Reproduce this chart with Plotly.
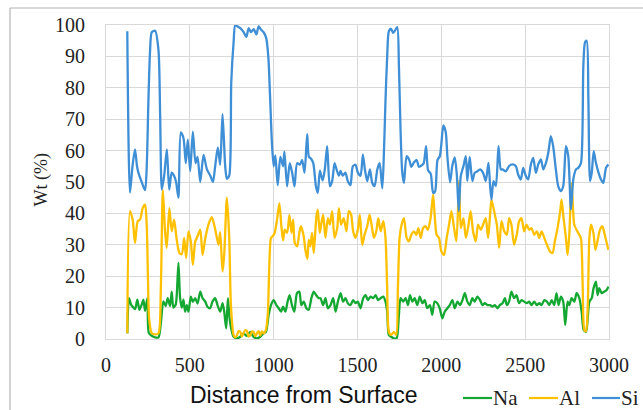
import plotly.graph_objects as go

# Depth profile of element concentrations (Wt %) versus distance from surface
na_x = [127, 137, 149, 159, 173, 187, 199, 213, 223, 233, 247, 255, 273, 293, 313, 327, 342, 356, 368, 382,
        392, 402, 416, 422, 432, 442, 452, 462, 472, 482, 492, 506, 518, 532, 546, 562, 576, 592, 605, 621,
        635, 651, 665, 681, 695, 705, 717, 727, 737, 751, 761, 781, 801, 820, 840, 860, 880, 900, 920, 940,
        954, 970, 984, 1000, 1016, 1030, 1044, 1056, 1070, 1083, 1095, 1109, 1123, 1139, 1153, 1165, 1179,
        1195, 1209, 1225, 1239, 1253, 1269, 1279, 1295, 1309, 1323, 1339, 1355, 1369, 1383, 1399, 1414,
        1428, 1442, 1458, 1474, 1488, 1502, 1518, 1534, 1548, 1562, 1578, 1594, 1608, 1622, 1638, 1654,
        1667, 1677, 1687, 1701, 1717, 1733, 1747, 1757, 1773, 1787, 1801, 1813, 1827, 1841, 1857, 1871,
        1887, 1901, 1916, 1932, 1946, 1960, 1976, 1990, 2006, 2020, 2036, 2050, 2066, 2080, 2096, 2112,
        2126, 2140, 2155, 2169, 2185, 2199, 2215, 2231, 2245, 2259, 2275, 2291, 2305, 2319, 2335, 2349,
        2365, 2379, 2391, 2404, 2418, 2434, 2448, 2464, 2478, 2494, 2510, 2524, 2538, 2554, 2570, 2584,
        2598, 2614, 2630, 2644, 2658, 2673, 2687, 2699, 2713, 2727, 2739, 2753, 2763, 2777, 2793, 2807,
        2823, 2837, 2849, 2863, 2873, 2883, 2897, 2908, 2922, 2932, 2942, 2956, 2972, 2986, 2996]
na_y = [1.8, 13, 11, 10.3, 9.5, 12.5, 9.3, 11, 12.5, 9, 13, 2, 1, 0.5, 0.5, 5, 12, 10.5, 13, 10.5,
        15.1, 10, 11, 14, 24.2, 13, 10, 12.5, 8.7, 10.8, 8.7, 13.5, 11.8, 13, 11.3, 15.1, 13, 11.9, 10.3, 9.8,
        11.9, 13, 10.8, 8.7, 11.4, 8.7, 3.4, 13, 6.6, 2.3, 0.7, 0.2, 0.7, 1.8, 1, 2.3, 0.7, 0.2, 0.7, 1.8,
        2.3, 7.7, 10.8, 12.4, 10.8, 9.8, 8.7, 10.3, 8.7, 11.9, 14, 10.8, 8.7, 14.6, 15.1, 10.8, 11.9,
        9.8, 9.3, 13, 15.1, 14, 13, 13, 10.8, 13, 9.8, 10.8, 13, 8.7, 11.9, 14.6, 11.9,
        13, 11.4, 10.8, 12.4, 11.4, 11.9, 9.8, 13, 14, 12.4, 13.5, 13, 14, 12.4, 13, 13.5,
        11.9, 8.7, 1.3, 0.7, 0.2, 0.2, 7.7, 13, 11.9, 13, 10.8, 14, 11.9, 13, 10.8, 13.5,
        11.4, 12.4, 9.8, 10.8, 7.7, 11.9, 11.4, 9.8, 6.6, 8.7, 9.8, 10.8, 12.4, 9.8, 11.9, 10.8,
        12.4, 14.6, 11.9, 10.8, 13, 11.9, 13.5, 12.4, 10.8, 11.4, 10.8, 10.8, 10.3, 10.8, 9.8, 10.8,
        11.4, 13, 10.8, 11.9, 15.1, 13, 14, 11.4, 12.4, 11.9, 11.4, 11.9, 10.8, 11.9, 10.8, 11.4,
        10.8, 12.4, 11.9, 10.8, 12.4, 10.8, 14.6, 10.8, 13.5, 11.9, 4.5, 11.9, 10.8, 13, 11.9, 14.6,
        13, 8.7, 2.9, 2.3, 6.6, 11.9, 13, 16.2, 18.3, 14, 16.2, 14.6, 15.1, 15.6, 16.7]

al_x = [127, 143, 159, 173, 189, 203, 219, 233, 243, 250, 257, 273, 293, 313, 327, 339, 352, 362, 378, 392,
        406, 422, 438, 452, 466, 478, 492, 506, 518, 532, 546, 562, 576, 592, 611, 631, 651, 671, 681, 695,
        705, 721, 735, 745, 761, 771, 781, 791, 801, 810, 820, 830, 840, 850, 860, 870, 880, 890, 900, 910,
        920, 930, 940, 954, 965, 975, 984, 994, 1006, 1020, 1034, 1046, 1056, 1066, 1080, 1094, 1106, 1116,
        1126, 1140, 1153, 1163, 1179, 1189, 1201, 1209, 1219, 1229, 1239, 1255, 1263, 1275, 1285, 1295,
        1309, 1323, 1335, 1349, 1363, 1379, 1389, 1402, 1418, 1434, 1448, 1462, 1474, 1488, 1502, 1514,
        1528, 1542, 1558, 1572, 1584, 1598, 1612, 1624, 1638, 1654, 1667, 1677, 1687, 1701, 1717, 1731,
        1741, 1751, 1763, 1777, 1793, 1807, 1821, 1837, 1851, 1863, 1877, 1891, 1907, 1920, 1936, 1951,
        1960, 1972, 1986, 2000, 2016, 2032, 2046, 2060, 2076, 2090, 2106, 2116, 2132, 2146, 2159, 2175,
        2189, 2205, 2219, 2235, 2249, 2265, 2279, 2291, 2299, 2315, 2331, 2345, 2359, 2375, 2391, 2404,
        2418, 2434, 2450, 2464, 2478, 2494, 2508, 2524, 2538, 2554, 2570, 2584, 2598, 2614, 2630, 2648,
        2663, 2677, 2693, 2709, 2717, 2729, 2743, 2753, 2763, 2777, 2793, 2809, 2823, 2833, 2843, 2853,
        2863, 2873, 2883, 2893, 2907, 2919, 2933, 2946, 2961, 2972, 2982, 2996]
al_y = [1.8, 40.7, 38, 30.6, 37.5, 38, 41.7, 42.8, 36, 20, 6.6, 1.8, 1.5, 1.8, 16, 47.5, 34.3, 29, 41.7, 34.3,
        38, 31.6, 27.4, 27, 32.2, 25.8, 34.3, 31, 23.6, 31, 32.7, 34.8, 26.8, 32, 36.4, 38.8, 35, 30, 34, 21.5,
        26.8, 45, 32.2, 10.8, 1.3, 0.5, 1.2, 2.5, 2.3, 0.8, 1.8, 2.8, 2.6, 0.8, 1.1, 2.4, 2.3, 0.9, 1.8, 2.5,
        1.1, 2.4, 1.8, 2.9, 8, 25, 32.2, 32.7, 33.8, 38, 43.3, 35.9, 31.4, 34.8, 33.8, 39.5, 33.8, 38,
        30.6, 29.5, 33.8, 35.9, 32.7, 28.4, 25.5, 31.6, 29.5, 33.8, 27.4, 39.1, 41.2, 33.8, 37, 39.6,
        32.2, 38.5, 36.4, 40.7, 32.2, 35.3, 41.7, 36.4, 38.5, 34.3, 40.7, 39.6, 34.3, 32.2, 34.8, 39.6,
        30, 33.2, 35.9, 39.6, 36.4, 32.2, 34.3, 38.5, 34.3, 37.5, 32.2, 16.2, 2.3, 1.3, 2.3, 1.3,
        16.2, 32.2, 36.4, 38.5, 32.2, 31.1, 33.2, 34.3, 33.2, 35.3, 32.2, 35.3, 35.9, 34.8, 38.5, 46,
        39.6, 33.2, 32.2, 27.9, 26.8, 32.2, 36.4, 40.7, 35.3, 31.1, 50.3, 35.3, 38.5, 32.2, 35.3, 40.7,
        34.3, 31.1, 36.4, 34.8, 36.4, 38.5, 32.2, 39.6, 44.4, 40.7, 36.4, 29, 37.5, 34.3, 33.2, 38.5,
        36.4, 30, 33.2, 37.5, 38.5, 34.3, 36.4, 34.8, 35.3, 33.2, 34.3, 32.2, 34.3, 32.2, 30, 27.9,
        27.4, 31.1, 35.3, 40.7, 44.4, 38.5, 32.2, 26.8, 33, 49.7, 36.4, 34.5, 33.2, 32, 17, 2.9,
        2.5, 10, 32.2, 36.4, 33.8, 28.4, 31.6, 34.8, 35.9, 33.8, 31.6, 28.4]

si_x = [127, 143, 158, 173, 185, 193, 213, 233, 243, 253, 263, 273, 293, 313, 323, 333, 347, 363, 377, 392,
        406, 418, 432, 446, 462, 476, 488, 502, 518, 534, 546, 562, 582, 602, 622, 638, 651, 667, 681, 695,
        711, 721, 735, 747, 761, 771, 786, 801, 821, 837, 851, 865, 881, 897, 910, 925, 940, 955, 968, 978,
        990, 1000, 1010, 1024, 1040, 1056, 1064, 1080, 1096, 1110, 1124, 1140, 1156, 1170, 1184, 1200,
        1210, 1222, 1236, 1252, 1263, 1276, 1292, 1305, 1319, 1335, 1349, 1363, 1375, 1389, 1399, 1412,
        1428, 1442, 1458, 1472, 1488, 1502, 1518, 1532, 1544, 1558, 1574, 1588, 1602, 1618, 1632, 1648,
        1658, 1667, 1677, 1687, 1700, 1712, 1721, 1737, 1747, 1757, 1767, 1777, 1793, 1809, 1821, 1837,
        1853, 1867, 1883, 1895, 1909, 1921, 1937, 1951, 1963, 1977, 1991, 2000, 2012, 2026, 2036, 2052,
        2066, 2080, 2092, 2104, 2116, 2132, 2146, 2155, 2169, 2185, 2199, 2215, 2231, 2249, 2265, 2281,
        2291, 2299, 2311, 2325, 2341, 2355, 2365, 2385, 2404, 2424, 2444, 2458, 2474, 2488, 2504, 2518,
        2534, 2548, 2564, 2578, 2594, 2608, 2624, 2638, 2653, 2667, 2683, 2697, 2713, 2727, 2743, 2757,
        2773, 2787, 2803, 2817, 2833, 2847, 2857, 2867, 2877, 2887, 2897, 2909, 2922, 2938, 2952, 2966,
        2982, 2996]
si_y = [98, 46.6, 55, 60.4, 55, 53, 50, 47.4, 55, 76, 92, 97.7, 98.2, 92, 71, 47.6, 52, 60.4, 47.6, 53,
        52, 50, 45, 65.8, 64, 56, 63.5, 53.5, 66, 56, 58, 50, 58.6, 54, 52, 50, 55, 61, 55.5, 71.6,
        55, 51, 52, 81.7, 94.5, 100, 99.5, 99, 97.7, 96.2, 99, 97.7, 98.7, 97, 99.6, 98.5, 97.7, 96, 90, 78,
        62, 55, 58.5, 49, 58, 55, 59.7, 48.6, 56, 53, 48.6, 56, 55.5, 57, 53, 65.2,
        58, 57.5, 56, 48.6, 46.5, 53.6, 50.5, 54, 61.4, 48.7, 50.3, 56, 54, 52, 53.5, 52,
        53, 50.3, 49, 55, 55.5, 53, 52, 58.7, 54, 50.3, 54, 49.7, 48.7, 54, 56, 48,
        60, 76, 90, 98, 98.8, 97.5, 98, 99.3, 87, 66, 53, 49.7, 58.2, 57, 54.8, 56.3,
        57, 54.8, 55.3, 56, 61.4, 53.7, 52.6, 46.5, 47, 57, 58.2, 62, 68, 66, 58.2, 49.9,
        55.3, 57.8, 52.6, 40.7, 51.9, 55.1, 58.2, 50.3, 58, 50.3, 52.9, 53.4, 54, 52.9, 50.3, 56.1,
        48.7, 44.4, 50.3, 48.7, 61.4, 54, 54, 53.4, 55.1, 55.6, 55.1, 52.4, 50.8, 54.5, 51.9, 50.8,
        55.6, 57.7, 52.9, 55.6, 57.2, 54, 56.1, 59.3, 64.6, 61.4, 54, 48.7, 47.1, 48.7, 61.4, 58.2,
        41.2, 50.8, 54, 54.5, 56.1, 87, 94.5, 95, 76.4, 50.3, 52.9, 59.8, 56.1, 52.9, 50.8, 49.7,
        54.5, 55.6]

series_names = ["Na", "Al", "Si"]
series_colors = ["#14a832", "#ffc000", "#3f8fd6"]
x_ticks = [0, 500, 1000, 1500, 2000, 2500, 3000]
y_ticks = [0, 10, 20, 30, 40, 50, 60, 70, 80, 90, 100]

SERIF = "Liberation Serif"
SANS = "Liberation Sans"
GRID = "#d9d9d9"
TEXT = "#222222"

# Figure geometry (pixels)
W, H = 643, 410
ML, MR, MT, MB = 106, 34, 25, 71
PW, PH = W - ML - MR, H - MT - MB


def px_to_paper(px, py):
    """Convert page pixel coordinates to paper coordinates."""
    return (px - ML) / PW, (H - MB - py) / PH


fig = go.Figure()
for name, color, xs, ys in zip(series_names, series_colors,
                               [na_x, al_x, si_x], [na_y, al_y, si_y]):
    fig.add_trace(go.Scatter(
        x=xs, y=ys, name=name, mode="lines",
        line=dict(color=color, width=2.3, shape="spline", smoothing=0.7),
    ))

fig.update_layout(
    width=W, height=H,
    margin=dict(l=ML, r=MR, t=MT, b=MB, autoexpand=False),
    paper_bgcolor="white", plot_bgcolor="white",
    showlegend=False,
    font=dict(family=SERIF, color=TEXT),
)

fig.update_xaxes(
    range=[0, 3000], tickvals=x_ticks, ticktext=[str(v) for v in x_ticks],
    showgrid=True, gridcolor=GRID, gridwidth=1,
    showline=True, linecolor=GRID, linewidth=1, mirror=True,
    zeroline=False,
    ticks="outside", ticklen=8, tickcolor="rgba(0,0,0,0)",
    tickfont=dict(family=SERIF, size=20, color=TEXT),
)
fig.update_yaxes(
    range=[0, 100], tickvals=y_ticks, ticktext=[str(v) for v in y_ticks],
    showgrid=True, gridcolor=GRID, gridwidth=1,
    showline=True, linecolor=GRID, linewidth=1, mirror=True,
    zeroline=False,
    ticks="outside", ticklen=16, tickcolor="rgba(0,0,0,0)",
    tickfont=dict(family=SERIF, size=20, color=TEXT),
)

# Axis titles
fig.add_annotation(
    text="Distance from Surface", xref="paper", yref="paper",
    x=0.393, y=-0.179, xanchor="center", yanchor="middle", showarrow=False,
    font=dict(family=SANS, size=23, color="#111111"),
)
fig.add_annotation(
    text="Wt (%)", xref="paper", yref="paper", textangle=-90,
    x=-0.129, y=0.505, xanchor="center", yanchor="middle", showarrow=False,
    font=dict(family=SERIF, size=18, color=TEXT),
)

# Legend row along the bottom right: line sample followed by series name
legend_line_px = [(463, 492), (529, 558), (592, 620)]
legend_y_px = 398
for name, color, (lx0, lx1) in zip(series_names, series_colors, legend_line_px):
    x0, y0 = px_to_paper(lx0, legend_y_px)
    x1, _ = px_to_paper(lx1, legend_y_px)
    fig.add_shape(type="line", xref="paper", yref="paper",
                  x0=x0, x1=x1, y0=y0, y1=y0,
                  line=dict(color=color, width=2.2))
    fig.add_annotation(
        text=name, xref="paper", yref="paper",
        x=x1, y=y0, xanchor="left", yanchor="middle", showarrow=False,
        xshift=-1, font=dict(family=SERIF, size=21, color=TEXT),
    )

# Chart-area frame (left and top edges)
fx, fy = px_to_paper(10, 8)
fig.add_shape(type="line", xref="paper", yref="paper",
              x0=fx, x1=fx, y0=fy, y1=-0.4,
              line=dict(color="#b4b4b4", width=1.2))
fig.add_shape(type="line", xref="paper", yref="paper",
              x0=fx, x1=1.2, y0=fy, y1=fy,
              line=dict(color="#b4b4b4", width=1.2))

fig.write_html("out.html")
